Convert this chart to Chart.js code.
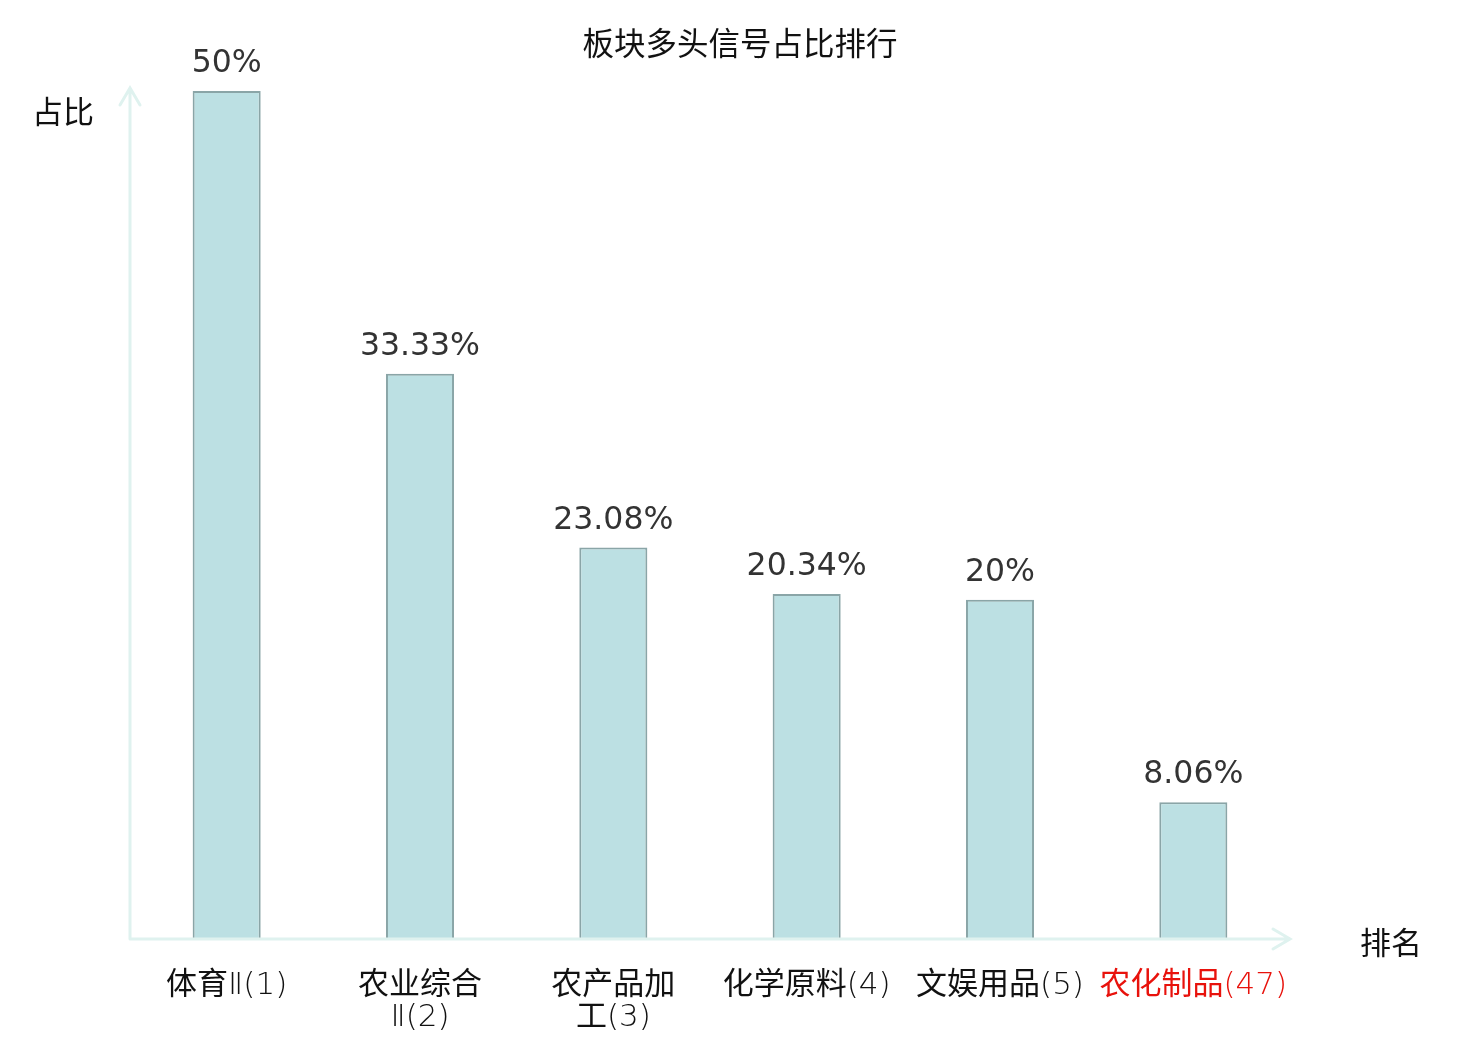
<!DOCTYPE html>
<html>
<head>
<meta charset="utf-8">
<script src="https://cdn.jsdelivr.net/npm/chart.js@4/dist/chart.umd.min.js"></script>
<style>
  html, body { margin: 0; padding: 0; background: #fff; }
  #wrap { width: 1480px; height: 1040px; }
</style>
</head>
<body>
<div id="wrap"><canvas id="myChart" width="1480" height="1040"></canvas></div>
<script>
// categories (multi-line where the original wraps)
var categories = [
  ["体育Ⅱ(1)"],
  ["农业综合", "Ⅱ(2)"],
  ["农产品加", "工(3)"],
  ["化学原料(4)"],
  ["文娱用品(5)"],
  ["农化制品(47)"]
];
var ratios = [50, 33.33, 23.08, 20.34, 20, 8.06];
var ratioLabels = ["50%", "33.33%", "23.08%", "20.34%", "20%", "8.06%"];
var highlight = [false, false, false, false, false, true];

var cjk = "'Noto Sans CJK SC', 'DejaVu Sans', sans-serif";
var hanFont = "31px 'Noto Sans CJK SC', sans-serif";
var latinFont = "200 31px 'DejaVu Sans', 'Noto Sans CJK SC', sans-serif";

// split a label into runs: Chinese characters in the CJK font, the rest thin
function runs(text) {
  var out = [];
  for (var k = 0; k < text.length; k++) {
    var ch = text[k];
    var f = /[\u4e00-\u9fff]/.test(ch) ? hanFont : latinFont;
    if (out.length && out[out.length - 1].font === f) {
      out[out.length - 1].text += ch;
    } else {
      out.push({ text: ch, font: f });
    }
  }
  return out;
}

function drawMixed(ctx, text, cx, baseY) {
  var parts = runs(text);
  var total = 0;
  parts.forEach(function(p) {
    ctx.font = p.font;
    p.w = ctx.measureText(p.text).width;
    total += p.w;
  });
  var px = cx - total / 2;
  ctx.textAlign = "left";
  ctx.textBaseline = "alphabetic";
  parts.forEach(function(p) {
    ctx.font = p.font;
    ctx.fillText(p.text, px, baseY);
    px += p.w;
  });
}

var axisArrows = {
  id: "axisArrows",
  afterDraw: function(chart) {
    var ctx = chart.ctx;
    var area = chart.chartArea;
    var x = chart.scales.x;
    var y = chart.scales.y;
    var x0 = area.left, y0 = y.getPixelForValue(0);

    ctx.save();
    ctx.strokeStyle = "#dff2ef";
    ctx.lineWidth = 3;
    ctx.lineCap = "round";
    // y axis
    ctx.beginPath();
    ctx.moveTo(x0, y0);
    ctx.lineTo(x0, area.top - 3);
    ctx.moveTo(x0 - 10, area.top + 14);
    ctx.lineTo(x0, area.top - 3);
    ctx.lineTo(x0 + 10, area.top + 14);
    // x axis
    ctx.moveTo(x0, y0);
    ctx.lineTo(area.right, y0);
    ctx.moveTo(area.right - 17, y0 - 10);
    ctx.lineTo(area.right, y0);
    ctx.lineTo(area.right - 17, y0 + 10);
    ctx.stroke();

    // axis names
    ctx.fillStyle = "#111";
    ctx.font = "31px " + cjk;
    ctx.textAlign = "center";
    ctx.textBaseline = "middle";
    ctx.fillText("占比", 63, 111);
    ctx.fillText("排名", 1391, 942);

    // category labels
    for (var i = 0; i < categories.length; i++) {
      var cx = x.getPixelForTick(i);
      ctx.fillStyle = highlight[i] ? "#e8120c" : "#111";
      for (var j = 0; j < categories[i].length; j++) {
        drawMixed(ctx, categories[i][j], cx, y0 + 55 + j * 32);
      }
    }

    // value labels
    var meta = chart.getDatasetMeta(0);
    ctx.fillStyle = "#333";
    ctx.textAlign = "center";
    ctx.textBaseline = "middle";
    ctx.font = "31.5px 'DejaVu Sans', sans-serif";
    meta.data.forEach(function(bar, i) {
      ctx.fillText(ratioLabels[i], bar.x, bar.y - 27);
    });
    ctx.restore();
  }
};

var chart = new Chart(document.getElementById("myChart"), {
  type: "bar",
  data: {
    labels: categories,
    datasets: [{
      label: "占比",
      data: ratios,
      backgroundColor: "#bce0e3",
      borderColor: "#8aa5a7",
      borderWidth: 2,
      barPercentage: 0.352,
      categoryPercentage: 1
    }]
  },
  options: {
    responsive: false,
    animation: false,
    layout: { padding: { left: 130, right: 190, top: 91, bottom: 101 } },
    plugins: {
      legend: { display: false },
      tooltip: { enabled: false },
      title: { display: false }
    },
    scales: {
      x: { display: false },
      y: { display: false, min: 0, max: 50 }
    }
  },
  plugins: [axisArrows, {
    id: "titleText",
    afterDraw: function(chart) {
      var ctx = chart.ctx;
      ctx.save();
      ctx.fillStyle = "#111";
      ctx.font = "31.5px " + cjk;
      ctx.textAlign = "center";
      ctx.textBaseline = "middle";
      ctx.fillText("板块多头信号占比排行", 740, 43);
      ctx.restore();
    }
  }]
});
</script>
</body>
</html>
